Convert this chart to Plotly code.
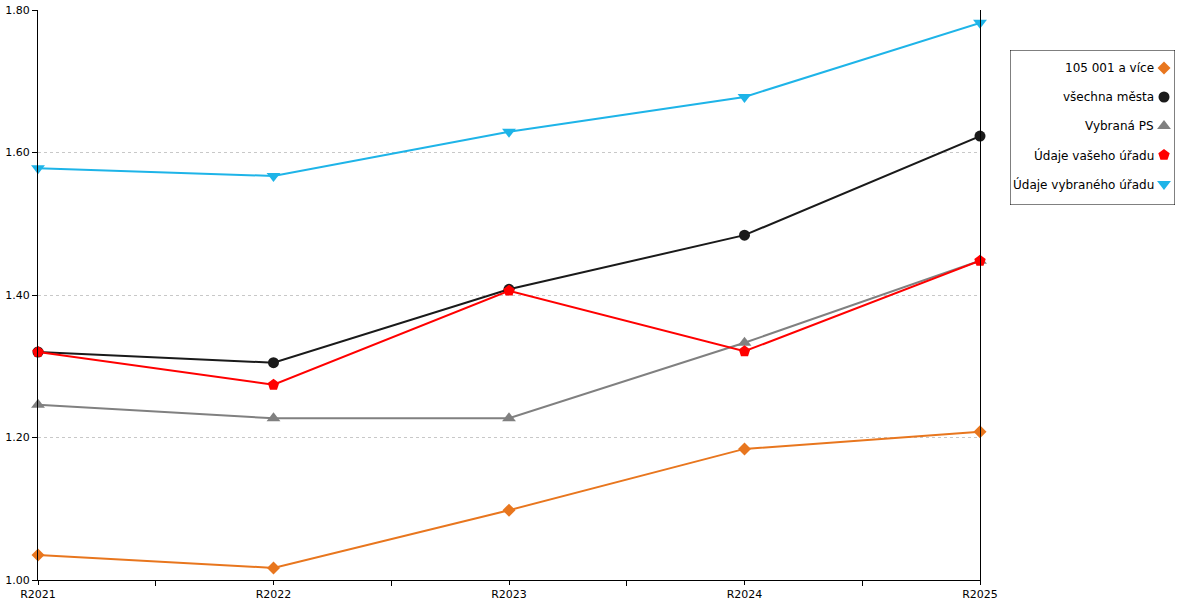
import plotly.graph_objects as go

years = ["R2021", "R2022", "R2023", "R2024", "R2025"]
s_105 = [1.035, 1.017, 1.098, 1.184, 1.208]
s_all = [1.320, 1.305, 1.408, 1.484, 1.623]
s_ps = [1.246, 1.227, 1.227, 1.333, 1.448]
s_vas = [1.320, 1.274, 1.406, 1.321, 1.448]
s_vyb = [1.578, 1.567, 1.629, 1.678, 1.782]

names = ["105 001 a více", "všechna města", "Vybraná PS", "Údaje vašeho úřadu", "Údaje vybraného úřadu"]
colors = ["#E8761E", "#1A1A1A", "#808080", "#FF0000", "#1EB4E8"]
symbols = ["diamond", "circle", "triangle-up", "pentagon", "triangle-down"]
sizes = [10, 11, 12, 12, 12]
series = [s_105, s_all, s_ps, s_vas, s_vyb]

W, H = 1200, 600
ML, MT, MB = 38, 10, 20
PW, PH = W - ML, H - MT - MB
plot_right = 980
dom_x = (plot_right - ML) / PW

# legend box geometry (pixels)
LX0, LX1, LY0, LY1 = 1010, 1175, 50, 205
row_y = [68, 97, 126, 155, 184]
mark_x = 1164
text_x = 1156

xi = list(range(len(years)))
fig = go.Figure()
for n, c, sym, sz, s in zip(names, colors, symbols, sizes, series):
    fig.add_trace(go.Scatter(x=xi, y=s, name=n, mode="lines+markers",
                             line=dict(color=c, width=2),
                             marker=dict(color=c, symbol=sym, size=sz, opacity=1),
                             cliponaxis=False, showlegend=False))

# custom legend (markers on the right of right-aligned text)
for c, sym, sz, ry in zip(colors, symbols, sizes, row_y):
    fig.add_trace(go.Scatter(x=[mark_x], y=[ry], mode="markers",
                             marker=dict(color=c, symbol=sym, size=sz, opacity=1,
                                         line=dict(width=0)),
                             opacity=1, xaxis="x2", yaxis="y2", showlegend=False,
                             hoverinfo="skip", cliponaxis=False))
for n, ry in zip(names, row_y):
    fig.add_annotation(x=text_x, y=ry, xref="x2", yref="y2", text=n, showarrow=False,
                       xanchor="right", yanchor="middle", font=dict(size=12, color="#000"))

fig.add_shape(type="rect", xref="x2", yref="y2", x0=LX0, x1=LX1, y0=LY0, y1=LY1,
              line=dict(color="#000", width=1), fillcolor="rgba(0,0,0,0)", layer="above")

fig.update_layout(
    width=W, height=H,
    margin=dict(l=ML, r=0, t=MT, b=MB, autoexpand=False),
    paper_bgcolor="white", plot_bgcolor="white",
    font=dict(family="DejaVu Sans", size=11, color="#000"),
    showlegend=False,
    xaxis=dict(domain=[0, dom_x], range=[0, 4], tickmode="array", tickvals=xi, ticktext=years,
               showgrid=False, zeroline=False, showline=True, linecolor="#000",
               linewidth=1, ticks="outside", ticklen=4, tickcolor="#000", automargin=False,
               minor=dict(tick0=0.5, dtick=1, ticks="outside", ticklen=5, tickcolor="#000"),
               tickfont=dict(size=11)),
    yaxis=dict(range=[1.0, 1.8], tickmode="linear", tick0=1.0, dtick=0.2,
               tickformat=".2f", showgrid=True, gridcolor="#C8C8C8", griddash="dot",
               gridwidth=1, zeroline=False, showline=True, linecolor="#000",
               linewidth=1, mirror=True, ticks="outside", ticklen=5, tickcolor="#000",
               automargin=False, tickfont=dict(size=11)),
    xaxis2=dict(domain=[(LX0 - ML) / PW, (LX1 - ML) / PW], range=[LX0, LX1], visible=False,
                fixedrange=True, anchor="y2"),
    yaxis2=dict(domain=[(H - MB - LY1) / PH, (H - MB - LY0) / PH], range=[LY1, LY0],
                visible=False, fixedrange=True, anchor="x2"),
)
fig.write_html("out.html", config={"displayModeBar": False},
               post_script="document.body.style.margin='0';document.body.style.overflow='hidden';")
